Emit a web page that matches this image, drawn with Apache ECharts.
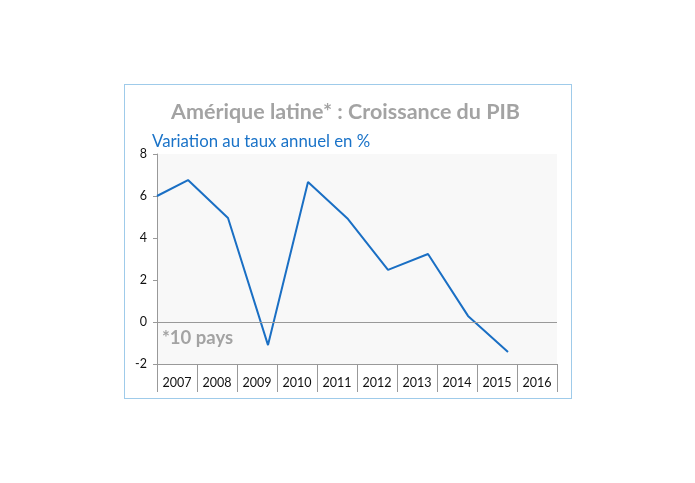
<!DOCTYPE html><html><head><meta charset="utf-8">
<script src="https://cdn.jsdelivr.net/npm/echarts@6/dist/echarts.min.js"></script>
<style>body{margin:0}#c{width:695px;height:483px}#f{position:absolute;left:124px;top:84px;width:446px;height:313px;border:1px solid #9fcbea}</style>
</head><body><div id="f"></div><div id="c" style="position:absolute;left:0;top:0"></div><script>
const years=['2007','2008','2009','2010','2011','2012','2013','2014','2015','2016'];
const xPos=[2007,2007.775,2008.775,2009.775,2010.775,2011.775,2012.775,2013.775,2014.775,2015.775];
const growth=[6.0,6.76,4.95,-1.1,6.67,4.9,2.48,3.24,0.29,-1.43];
const yTicks=[-2,0,2,4,6,8];
const ch=echarts.init(document.getElementById('c'));
ch.setOption({
 animation:false,
 title:{text:'Amérique latine* : Croissance du PIB',left:166,top:96,textStyle:{fontFamily:'Lato',fontSize:21.5,fontWeight:'bold',color:'#a3a3a3'}},
 graphic:[
  {type:'text',left:152,top:133,style:{text:'Variation au taux annuel en %',font:'16.8px Lato',fill:'#1a73c8'}},
  {type:'text',left:162,top:329,style:{text:'*10 pays',font:'bold 18.5px Lato',fill:'#a3a3a3'}}
 ],
 grid:{left:157,right:138,top:154,bottom:119,show:true,backgroundColor:'#f8f8f8',borderWidth:0},
 xAxis:[
  {type:'value',min:2007,max:2017,show:false},
  {type:'category',data:years,position:'bottom',boundaryGap:true,
   axisLine:{lineStyle:{color:'#999'}},axisTick:{show:true,length:28,interval:0,lineStyle:{color:'#999'}},
   axisLabel:{margin:12,color:'#111',fontFamily:'Lato',fontSize:12.5,interval:0}}
 ],
 yAxis:{type:'value',min:-2,max:8,interval:2,
  axisLine:{show:true,lineStyle:{color:'#999'}},axisTick:{show:true,length:4,lineStyle:{color:'#999'}},
  splitLine:{show:false},axisLabel:{color:'#111',fontFamily:'Lato',fontSize:12.5,margin:10}},
 series:[
  {type:'line',xAxisIndex:0,data:xPos.map((x,i)=>[x,growth[i]]),symbol:'none',lineStyle:{color:'#1a6fc4',width:2},
   markLine:{silent:true,symbol:'none',label:{show:false},lineStyle:{color:'#999',type:'solid',width:1},data:[{yAxis:0}]}}
 ]
});
</script></body></html>
